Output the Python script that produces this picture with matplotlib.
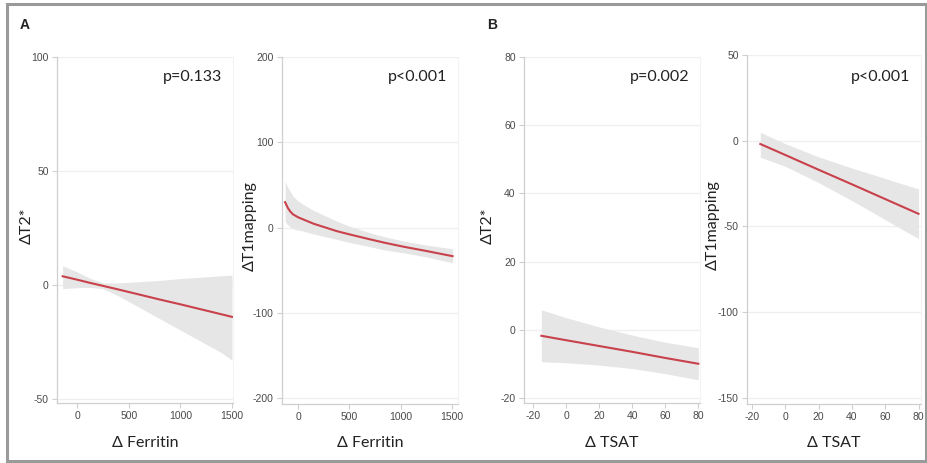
import matplotlib
matplotlib.use("Agg")
import matplotlib.pyplot as plt
from matplotlib.patches import Rectangle

plt.rcParams["axes.unicode_minus"] = False

# ---- data: fitted change and 95% CI ----
# A, left: delta T2* vs delta ferritin
ferr_t2_x = [-140, 0, 125, 250, 400, 600, 800, 1000, 1200, 1400, 1500]
ferr_t2_fit = [3.8, 2.3, 0.9, -0.4, -2.0, -4.2, -6.4, -8.5, -10.7, -12.9, -14.0]
ferr_t2_hi = [8.4, 5.7, 2.9, 0.9, 0.9, 1.4, 2.0, 2.8, 3.4, 4.0, 4.3]
ferr_t2_lo = [-1.6, -1.2, -1.1, -1.6, -4.8, -9.8, -14.8, -19.8, -24.8, -29.8, -33.0]

# A, right: delta T1 mapping vs delta ferritin
ferr_t1_x = [-127, -100, -78, -50, 0, 52, 150, 379, 500, 706, 850, 1032, 1250, 1507]
ferr_t1_fit = [29.7, 23.0, 19.0, 15.5, 12.0, 9.4, 4.5, -4.3, -8.0, -14.0, -18.0, -22.6, -27.5, -33.6]
ferr_t1_hi = [54.0, 47.0, 42.6, 37.0, 31.0, 27.0, 20.0, 7.4, 1.5, -6.3, -11.0, -16.0, -20.5, -25.0]
ferr_t1_lo = [7.0, 3.0, 0.5, -1.5, -3.0, -4.3, -7.5, -14.0, -17.5, -22.6, -26.5, -29.7, -34.5, -41.4]

# B, left: delta T2* vs delta TSAT
tsat_t2_x = [-15, 0, 20, 40, 60, 80]
tsat_t2_fit = [-1.7, -3.0, -4.7, -6.4, -8.2, -9.9]
tsat_t2_hi = [5.9, 3.6, 0.9, -1.5, -3.6, -5.2]
tsat_t2_lo = [-9.3, -9.6, -10.3, -11.3, -12.8, -14.6]

# B, right: delta T1 mapping vs delta TSAT
tsat_t1_x = [-15, 0, 20, 40, 60, 80]
tsat_t1_fit = [-1.9, -8.3, -16.9, -25.4, -34.0, -42.6]
tsat_t1_hi = [4.9, -1.7, -9.4, -15.9, -22.0, -28.1]
tsat_t1_lo = [-9.6, -14.9, -24.4, -34.9, -46.0, -57.1]

# tick values
ferr_xticks = [0, 500, 1000, 1500]
tsat_xticks = [-20, 0, 20, 40, 60, 80]
ferr_t2_yticks = [-50, 0, 50, 100]
ferr_t1_yticks = [-200, -100, 0, 100, 200]
tsat_t2_yticks = [-20, 0, 20, 40, 60, 80]
tsat_t1_yticks = [-150, -100, -50, 0, 50]

p_labels = ["p=0.133", "p<0.001", "p=0.002", "p<0.001"]
y_titles = ["\u0394T2*", "\u0394T1mapping", "\u0394T2*", "\u0394T1mapping"]
x_titles = ["\u0394 Ferritin", "\u0394 Ferritin", "\u0394 TSAT", "\u0394 TSAT"]

W, H = 928, 463
fig = plt.figure(figsize=(W / 100, H / 100), dpi=100)
fig.patch.set_facecolor("white")


def fx(px):
    return px / W


def fy(py):
    return 1 - py / H


# outer frame
fig.add_artist(Rectangle((fx(7), fy(461)), fx(926) - fx(7), fy(4) - fy(461),
                         transform=fig.transFigure, fill=False,
                         edgecolor="#9a9a9a", linewidth=2.2))

panels = [
    dict(box=(57, 233, 57, 403), x=ferr_t2_x, fit=ferr_t2_fit, hi=ferr_t2_hi, lo=ferr_t2_lo,
         xlim=(-195, 1510), ylim=(-51.8, 100), xt=ferr_xticks, yt=ferr_t2_yticks, ylab_x=27),
    dict(box=(282, 458, 57, 404), x=ferr_t1_x, fit=ferr_t1_fit, hi=ferr_t1_hi, lo=ferr_t1_lo,
         xlim=(-157, 1560), ylim=(-207, 200), xt=ferr_xticks, yt=ferr_t1_yticks, ylab_x=250),
    dict(box=(524, 700, 57, 403), x=tsat_t2_x, fit=tsat_t2_fit, hi=tsat_t2_hi, lo=tsat_t2_lo,
         xlim=(-25.5, 81), ylim=(-21.4, 80), xt=tsat_xticks, yt=tsat_t2_yticks, ylab_x=488),
    dict(box=(747, 921, 55, 404), x=tsat_t1_x, fit=tsat_t1_fit, hi=tsat_t1_hi, lo=tsat_t1_lo,
         xlim=(-23, 81.5), ylim=(-153.5, 50), xt=tsat_xticks, yt=tsat_t1_yticks, ylab_x=713),
]

axis_col = "#cfcfcf"
grid_col = "#efefef"
tick_text = "#4a4a4a"
title_font = ["Lato", "DejaVu Sans"]

for i, p in enumerate(panels):
    l, r, t, b = p["box"]
    ax = fig.add_axes([fx(l), fy(b), fx(r) - fx(l), fy(t) - fy(b)])
    ax.set_facecolor("white")
    ax.fill_between(p["x"], p["lo"], p["hi"], color="#e6e6e6", linewidth=0, zorder=2)
    ax.plot(p["x"], p["fit"], color="#c8414b", linewidth=1.5, zorder=3)
    ax.set_xlim(*p["xlim"])
    ax.set_ylim(*p["ylim"])
    ax.set_xticks(p["xt"])
    ax.set_yticks(p["yt"])
    ax.grid(axis="y", color=grid_col, linewidth=0.9, zorder=0)
    ax.spines["top"].set_visible(False)
    ax.spines["right"].set_color("#f3f3f3")
    ax.spines["right"].set_linewidth(0.8)
    for s in ("left", "bottom"):
        ax.spines[s].set_color(axis_col)
        ax.spines[s].set_linewidth(0.9)
    ax.tick_params(axis="both", colors=axis_col, labelcolor=tick_text,
                   length=3.5, width=0.8, labelsize=7.5, pad=2.5)
    for lab in ax.get_xticklabels() + ax.get_yticklabels():
        lab.set_fontfamily("Liberation Sans")
    ax.set_axisbelow(True)

    # p-value
    fig.text(fx(r - 40), fy(77), p_labels[i], ha="center", va="center",
             fontsize=11.5, family=title_font, color="#222222")
    # axis titles
    fig.text(fx((l + r) / 2), fy(443), x_titles[i], ha="center", va="center",
             fontsize=11.5, family=title_font, color="#222222")
    fig.text(fx(p["ylab_x"]), fy((t + b) / 2 - 4), y_titles[i], ha="center", va="center",
             rotation=90, fontsize=11.5, family=title_font, color="#222222")

fig.text(fx(25), fy(25), "A", ha="center", va="center", fontsize=10,
         fontweight="bold", family=["Liberation Sans"], color="#222222")
fig.text(fx(492), fy(25), "B", ha="center", va="center", fontsize=10,
         fontweight="bold", family=["Liberation Sans"], color="#222222")

fig.savefig("out.png", dpi=100, facecolor="white")
